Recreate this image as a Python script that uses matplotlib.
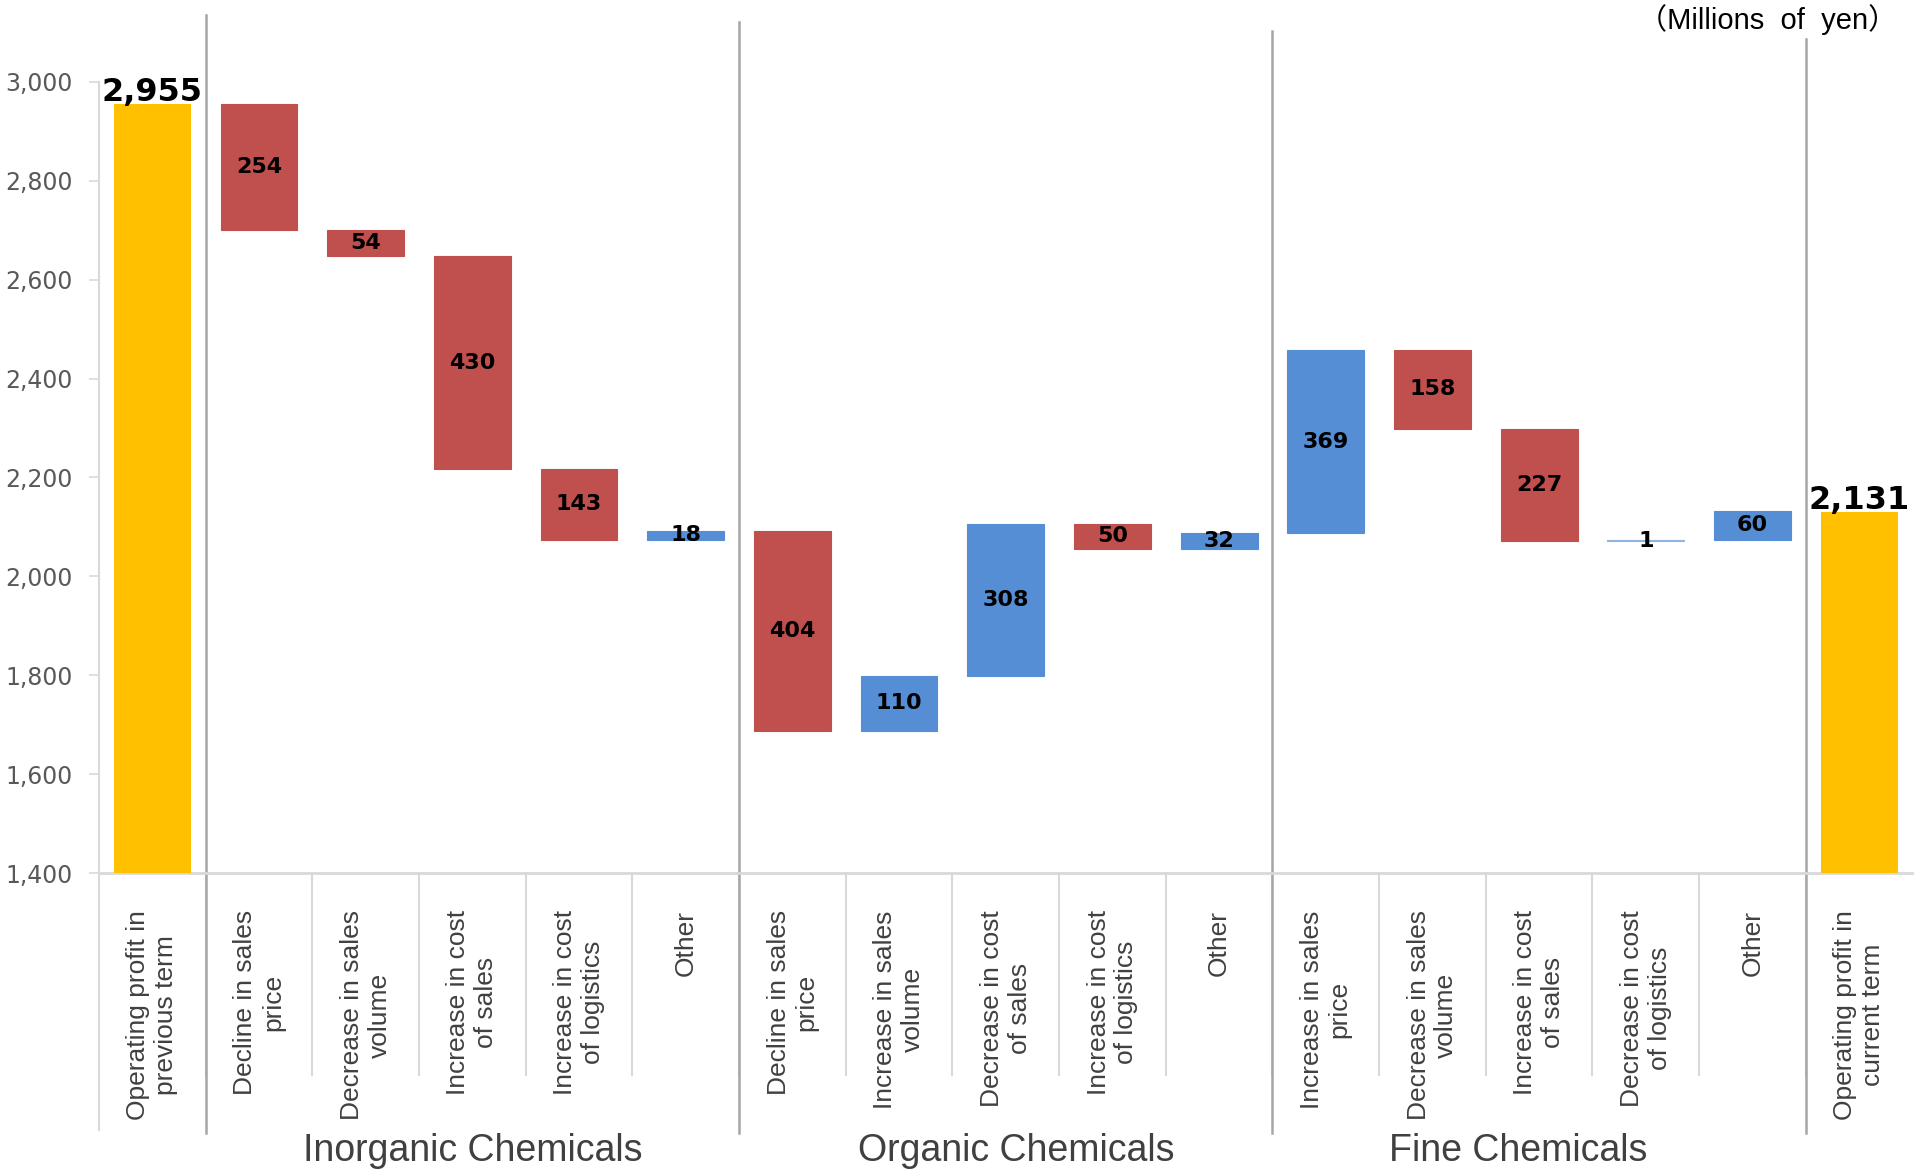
import matplotlib
matplotlib.use("Agg")
import matplotlib.pyplot as plt
import numpy as np

# Operating profit bridge, previous term -> current term (millions of yen)
categories = [
    "Operating profit in\nprevious term",
    "Decline in sales\nprice", "Decrease in sales\nvolume", "Increase in cost\nof sales",
    "Increase in cost\nof logistics", "Other",
    "Decline in sales\nprice", "Increase in sales\nvolume", "Decrease in cost\nof sales",
    "Increase in cost\nof logistics", "Other",
    "Increase in sales\nprice", "Decrease in sales\nvolume", "Increase in cost\nof sales",
    "Decrease in cost\nof logistics", "Other",
    "Operating profit in\ncurrent term",
]
profit_previous = 2955
profit_current = 2131
changes = [-254, -54, -430, -143, 18,
           -404, 110, 308, -50, 32,
           369, -158, -227, 1, 60]
groups = ["Inorganic Chemicals", "Organic Chemicals", "Fine Chemicals"]
yticks = [1400, 1600, 1800, 2000, 2200, 2400, 2600, 2800, 3000]

TOTAL_COLOR = "#FFC000"
UP_COLOR = "#558ED5"
DOWN_COLOR = "#C0504D"
LINE_COLOR = "#A6A6A6"
LIGHT_LINE = "#D9D9D9"
SANS = ["Liberation Sans", "DejaVu Sans"]

fig = plt.figure(figsize=(19.15, 11.69), dpi=100, facecolor="white")
ax = fig.add_axes([0.0517, 0.2532, 0.947, 0.6767])

n = len(categories)
x = np.arange(n)
width = 0.72

# floating bars for the changes
running = profit_previous
for i, d in enumerate(changes, start=1):
    start = running
    running = running + d
    lo = min(start, running)
    color = UP_COLOR if d > 0 else DOWN_COLOR
    if abs(d) <= 2:
        color = "#8EB4E3"
    ax.bar(i, abs(d), bottom=lo, width=width, color=color,
           edgecolor=color, linewidth=0.8, zorder=3)
    ax.text(i, lo + abs(d) / 2, f"{abs(d)}", ha="center", va="center",
            fontsize=16, fontweight="bold", color="black", zorder=4)

# start / end totals
for xi, val in [(0, profit_previous), (n - 1, profit_current)]:
    ax.bar(xi, val - 1400, bottom=1400, width=width, color=TOTAL_COLOR, zorder=3)
    ax.text(xi, val - 8, f"{val:,}", ha="center", va="bottom",
            fontsize=23, fontweight="bold", color="black", zorder=4)

ax.set_xlim(-0.5, n - 0.5)
ax.set_ylim(1400, 3000)
ax.set_yticks(yticks)
ax.set_yticklabels([f"{v:,}" for v in yticks], fontsize=17, color="#595959")
ax.tick_params(axis="y", length=7, width=1.2, color=LIGHT_LINE, pad=12)
ax.set_xticks([])

for side in ["top", "right"]:
    ax.spines[side].set_visible(False)
ax.spines["left"].set_color(LIGHT_LINE)
ax.spines["left"].set_linewidth(1.5)
ax.spines["bottom"].set_color(LIGHT_LINE)
ax.spines["bottom"].set_linewidth(2)

trans = ax.get_xaxis_transform()

# category dividers below the axis
for b in np.arange(0.5, n - 1, 1.0):
    ax.plot([b, b], [0, -0.255], transform=trans, color=LIGHT_LINE,
            lw=1.5, clip_on=False, zorder=1)
ax.plot([-0.5, -0.5], [0, -0.325], transform=trans, color=LIGHT_LINE,
        lw=1.5, clip_on=False, zorder=1)

# group separators
for b, top in zip([0.5, 5.5, 10.5, 15.5], [1.085, 1.076, 1.065, 1.054]):
    ax.plot([b, b], [top, -0.329], transform=trans, color=LINE_COLOR,
            lw=1.8, clip_on=False, zorder=2)

# rotated category labels
for xi, lab in zip(x, categories):
    ax.text(xi, -0.047, lab, transform=trans, rotation=90,
            rotation_mode="anchor", ha="right", va="center",
            multialignment="center", fontsize=19, color="#404040",
            family=SANS, linespacing=1.2)

# group titles
for xc, name in zip([3.0, 8.1, 12.8], groups):
    ax.text(xc, -0.352, name, transform=trans, ha="center", va="center",
            fontsize=27, color="#404040", family=SANS)

fig.text(0.9905, 0.983, "（Millions  of  yen）", ha="right", va="center",
         fontsize=21, color="black",
         family=["Liberation Sans", "Noto Sans CJK JP", "DejaVu Sans"])

fig.savefig("out.png", dpi=100, facecolor="white")
